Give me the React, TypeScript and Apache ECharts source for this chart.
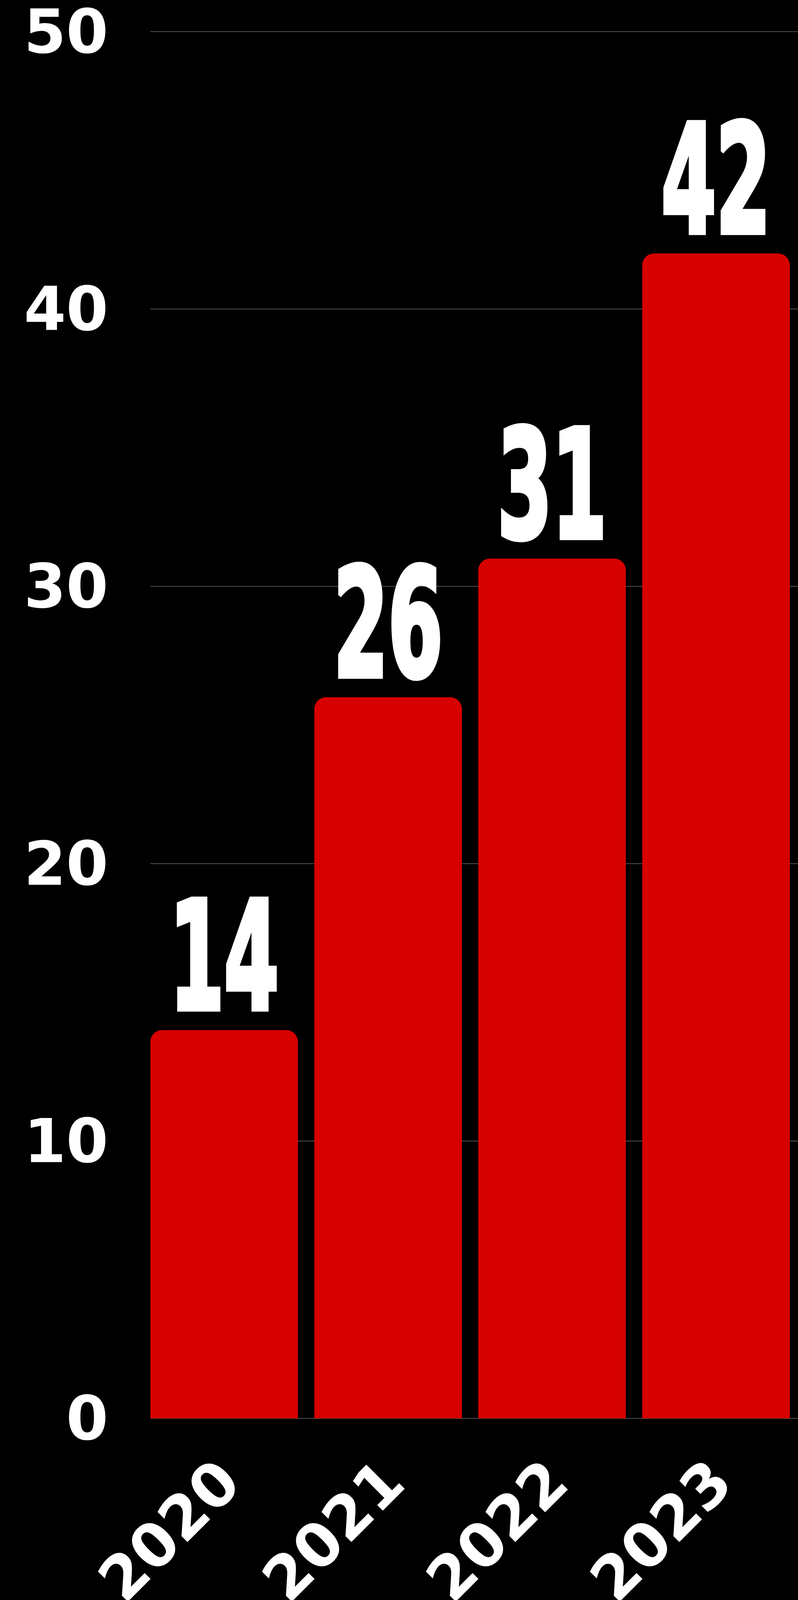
import React, { useEffect, useRef } from "react";
import * as echarts from "echarts";

const years = ["2020", "2021", "2022", "2023"];
const counts = [14, 26, 31, 42];
const yTicks = { min: 0, max: 50, interval: 10 };

export default function App() {
  const ref = useRef<HTMLDivElement>(null);
  useEffect(() => {
    const chart = echarts.init(ref.current!, null, { renderer: "svg" });
    const axisFont = {
      color: "#ffffff",
      fontFamily: "DejaVu Sans",
      fontWeight: "bold" as const,
      fontSize: 155,
      lineHeight: 120,
    };
    chart.setOption({
      animation: false,
      backgroundColor: "#000000",
      grid: [
        { left: 364, width: 1704, top: 81, height: 3550 },
        { left: 385, right: 0, top: 81, height: 3550 },
      ],
      xAxis: [
        {
          type: "category",
          gridIndex: 0,
          data: years,
          axisLine: { show: false },
          axisTick: { show: false },
          axisLabel: {
            ...axisFont,
            rotate: 45,
            margin: 62,
            align: "right",
            verticalAlign: "top",
            padding: [0, 43, 0, 0],
          },
        },
        { type: "value", gridIndex: 1, show: false, min: 0, max: 1 },
      ],
      yAxis: [
        {
          type: "value",
          gridIndex: 0,
          ...yTicks,
          splitLine: { show: false },
          axisLine: { show: false },
          axisTick: { show: false },
          axisLabel: { ...axisFont, margin: 87 },
        },
        {
          type: "value",
          gridIndex: 1,
          ...yTicks,
          axisLine: { show: false },
          axisTick: { show: false },
          axisLabel: { show: false },
          splitLine: { show: true, lineStyle: { color: "#505050", width: 2 } },
        },
      ],
      series: [
        {
          type: "bar",
          xAxisIndex: 0,
          yAxisIndex: 0,
          data: counts,
          barCategoryGap: "10%",
          itemStyle: { color: "#d70000", borderRadius: [30, 30, 0, 0] },
          z: 3,
        },
        {
          type: "custom",
          xAxisIndex: 0,
          yAxisIndex: 0,
          data: counts.map((v, i) => [i, v]),
          z: 4,
          renderItem: (params: any, api: any) => {
            const p = api.coord([api.value(0), api.value(1)]);
            return {
              type: "text",
              x: p[0],
              y: p[1] + 5,
              scaleX: 0.58,
              style: {
                text: String(api.value(1)),
                fill: "#ffffff",
                stroke: "#ffffff",
                lineWidth: 14,
                fontFamily: "'DejaVu Sans Condensed', 'DejaVu Sans', sans-serif",
                fontWeight: "bold",
                fontSize: 385,
                align: "center",
                verticalAlign: "bottom",
              },
            };
          },
        },
      ],
    });
    return () => chart.dispose();
  }, []);
  return (
    <div
      ref={ref}
      style={{ position: "absolute", left: 0, top: 0, width: 2043, height: 4148, background: "#000" }}
    />
  );
}
